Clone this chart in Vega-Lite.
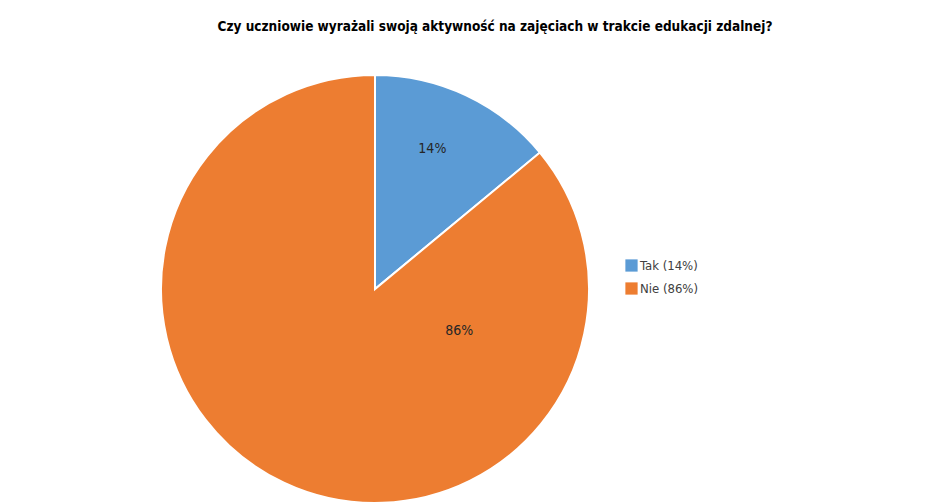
{
  "$schema": "https://vega.github.io/schema/vega-lite/v6.json",
  "width": 470,
  "height": 428,
  "autosize": {"type": "none"},
  "padding": {"left": 140, "top": 75, "right": 334, "bottom": 0},
  "background": "white",
  "title": {
    "text": "Czy uczniowie wyrażali swoją aktywność na zajęciach w trakcie edukacji zdalnej?",
    "anchor": "middle",
    "frame": "group",
    "dx": 120,
    "offset": 38,
    "font": "DejaVu Sans Condensed, sans-serif",
    "fontSize": 13.5,
    "fontWeight": "bold",
    "color": "#000000"
  },
  "data": {
    "values": [
      {"answer": "Tak (14%)", "share": 0.14},
      {"answer": "Nie (86%)", "share": 0.86}
    ]
  },
  "layer": [
    {
      "mark": {"type": "arc", "stroke": "white", "strokeWidth": 2},
      "encoding": {
        "theta": {"field": "share", "type": "quantitative", "stack": true},
        "order": {"field": "share", "sort": "ascending"},
        "color": {
          "field": "answer",
          "type": "nominal",
          "sort": ["Tak (14%)", "Nie (86%)"],
          "scale": {"domain": ["Tak (14%)", "Nie (86%)"], "range": ["#5B9BD5", "#ED7D31"]},
          "legend": {
            "title": null,
            "orient": "none",
            "legendX": 485,
            "legendY": 184,
            "symbolType": "square",
            "symbolSize": 150,
            "symbolStrokeWidth": 0,
            "symbolOpacity": 1,
            "labelFont": "DejaVu Sans Condensed, sans-serif",
            "labelFontSize": 13,
            "labelColor": "#404040",
            "labelOffset": 2,
            "rowPadding": 9
          }
        }
      }
    },
    {
      "mark": {
        "type": "text",
        "font": "DejaVu Sans Condensed, sans-serif",
        "fontSize": 14,
        "color": "#262626",
        "align": "center",
        "baseline": "middle"
      },
      "encoding": {
        "theta": {"field": "share", "type": "quantitative", "stack": true, "scale": {"range": [0.16, 3.44]}},
        "order": {"field": "share", "sort": "ascending"},
        "detail": {"field": "answer", "type": "nominal"},
        "radius": {"field": "share", "type": "quantitative", "scale": {"type": "linear", "zero": false, "domain": [0.14, 0.86], "range": [151, 94]}},
        "text": {"field": "share", "type": "quantitative", "format": ".0%"}
      }
    }
  ],
  "resolve": {"scale": {"theta": "independent", "radius": "independent"}},
  "config": {"view": {"stroke": null}}
}
